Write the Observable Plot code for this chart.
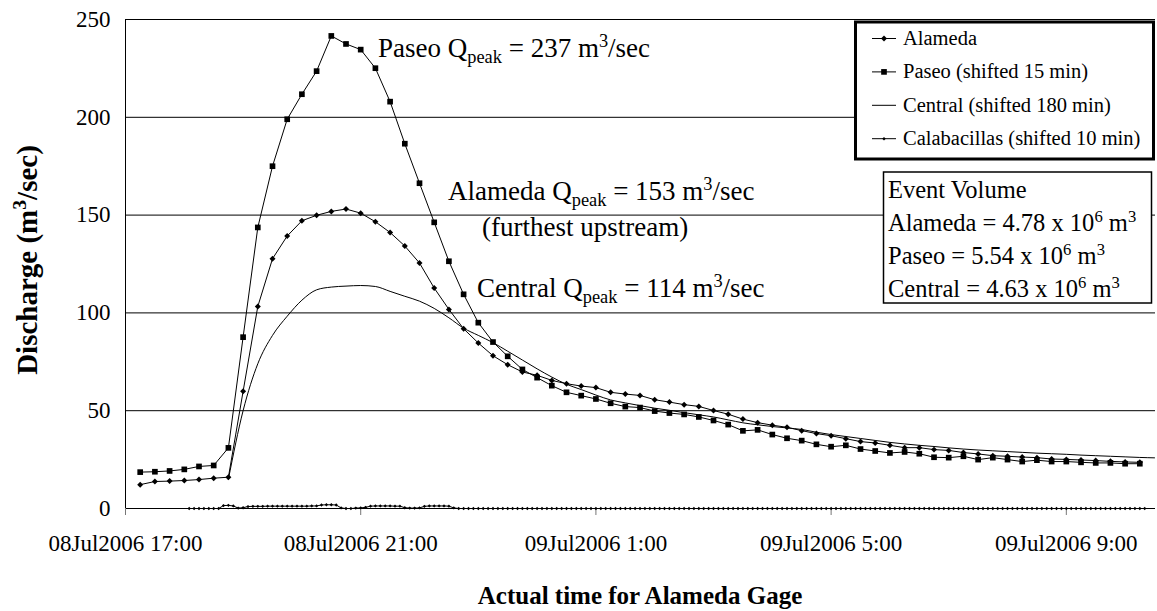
<!DOCTYPE html>
<html>
<head>
<meta charset="utf-8">
<script src="https://cdn.jsdelivr.net/npm/d3@7"></script>
<script src="https://cdn.jsdelivr.net/npm/@observablehq/plot@0.6"></script>
<style>
  html, body { margin: 0; padding: 0; background: #fff; }
  #chart { width: 1157px; height: 611px; }
</style>
</head>
<body>
<div id="chart"></div>
<script>
// ---------------- data (m3/sec) ----------------
// Alameda & Paseo: 15-min samples starting 08Jul2006 17:15
const alamedaQ = [12.2, 13.8, 14.0, 14.3, 14.8, 15.5, 16.0, 59.9, 103.3, 127.7, 139.3, 147.1, 149.9, 151.9, 153.1, 151.0,
  146.6, 141.1, 134.2, 125.5, 112.7, 101.8, 91.9, 84.6, 78.1, 73.5, 69.8, 68.1, 65.5, 63.8, 62.6, 61.8,
  59.4, 58.5, 57.8, 55.6, 54.4, 53.1, 52.2, 50.1, 48.2, 45.7, 43.9, 42.6, 41.5, 39.8, 38.3, 37.2,
  35.7, 34.2, 33.5, 32.3, 31.1, 31.1, 30.1, 29.7, 28.6, 27.9, 27.0, 26.7, 26.3, 26.0, 25.3, 25.1,
  24.8, 24.5, 24.1, 23.8, 23.6];
const paseoQ = [18.6, 18.8, 19.2, 20.0, 21.5, 22.0, 31.0, 87.6, 143.7, 175.0, 199.0, 211.8, 223.6, 241.6, 237.5, 234.6,
  225.1, 208.0, 186.5, 166.3, 146.3, 126.4, 109.5, 95.0, 85.1, 77.8, 71.1, 66.9, 62.8, 59.4, 57.7, 56.0,
  53.8, 52.1, 51.6, 49.8, 48.8, 48.1, 46.8, 45.0, 42.9, 39.7, 40.2, 37.8, 35.9, 34.7, 32.8, 31.6,
  32.3, 30.4, 29.4, 28.4, 28.9, 28.0, 26.2, 26.0, 26.7, 25.0, 26.0, 25.0, 24.0, 24.7, 24.0, 24.0,
  23.6, 23.3, 23.3, 22.9, 22.9];
// Central: 15-min samples starting 08Jul2006 18:45
const centralQ = [15, 50, 74, 88.5, 98.3, 106.5, 111.8, 113.2, 113.7, 114.0, 113.5, 111.0, 108.5, 106.0, 102.3, 97.5,
  92.2, 88.5, 84.8, 80.4, 75.9, 71.4, 67.2, 63.5, 60.8, 58.0, 55.5, 54.0, 52.6, 51.3, 50.2, 49.0,
  47.9, 46.8, 45.3, 43.8, 42.8, 41.9, 41.2, 40.4, 39.0, 37.8, 36.8, 35.8, 34.8, 33.8, 33.0, 32.3,
  31.7, 31.0, 30.4, 29.9, 29.5, 29.1, 28.7, 28.3, 28.0, 27.7, 27.3, 27.0, 26.7, 26.4, 26.1, 25.9];
// Calabacillas: 5-min samples starting 08Jul2006 18:05 (one row per hour)
const calabQ = [
  0, 0, 0, 0, 0, 0, 0, 1.5, 1.6, 1.3, 0.2, 0.4,
  1.0, 1.1, 1.1, 1.1, 1.2, 1.2, 1.2, 1.2, 1.2, 1.2, 1.2, 1.2,
  1.2, 1.3, 1.3, 1.8, 1.9, 1.9, 1.8, 0.3, 0, 0, 0.2, 0.3,
  0.6, 1.2, 1.3, 1.3, 1.3, 1.3, 1.2, 1.2, 0.4, 0.2, 0.2, 0.3,
  1.1, 1.3, 1.3, 1.3, 1.3, 1.2, 0.3, 0, 0, 0, 0, 0,
  0, 0, 0, 0, 0, 0, 0, 0, 0, 0, 0, 0,
  0, 0, 0, 0, 0, 0, 0, 0, 0, 0, 0, 0,
  0, 0, 0, 0, 0, 0, 0, 0, 0, 0, 0, 0,
  0, 0, 0, 0, 0, 0, 0, 0, 0, 0, 0, 0,
  0, 0, 0, 0, 0, 0, 0, 0, 0, 0, 0, 0,
  0, 0, 0, 0, 0, 0, 0, 0, 0, 0, 0, 0,
  0, 0, 0, 0, 0, 0, 0, 0, 0, 0, 0, 0,
  0, 0, 0, 0, 0, 0, 0, 0, 0, 0, 0, 0,
  0, 0, 0, 0, 0, 0, 0, 0, 0, 0, 0, 0,
  0, 0, 0, 0, 0, 0, 0, 0, 0, 0, 0, 0,
  0, 0, 0, 0, 0, 0, 0, 0, 0, 0, 0, 0,
  0, 0, 0, 0
];
const yTicks = [0, 50, 100, 150, 200, 250];
const xTickHours = [[8, 17], [8, 21], [9, 1], [9, 5], [9, 9]];
const legendLabels = ["Alameda", "Paseo (shifted 15 min)", "Central (shifted 180 min)", "Calabacillas (shifted 10 min)"];
const volumeLabels = [["Alameda", "4.78"], ["Paseo", "5.54"], ["Central", "4.63"]];

// ---------------- build tables ----------------
const T = (d, h, m) => new Date(Date.UTC(2006, 6, d, h, m));
const series = (vals, start, stepMin) => vals.map((v, i) => ({t: new Date(+start + i * stepMin * 60000), v}));
const alameda = series(alamedaQ, T(8, 17, 15), 15);
const paseo = series(paseoQ, T(8, 17, 15), 15);
const central = series(centralQ, T(8, 18, 45), 15);
const calab = series(calabQ, T(8, 18, 5), 5);
const xTicks = xTickHours.map(([d, h]) => T(d, h, 0));
const fmt = d => `${String(d.getUTCDate()).padStart(2, "0")}Jul2006 ${d.getUTCHours()}:00`;

const FONT = '"Liberation Serif", "Times New Roman", Times, serif';
const diamond = d3.symbolDiamond2;

const chart = Plot.plot({
  width: 1157,
  height: 611,
  marginLeft: 125,
  marginRight: 2,
  marginTop: 19,
  marginBottom: 103,
  style: {fontFamily: FONT, fontSize: "23px", color: "#000", background: "#fff", overflow: "visible"},
  x: {type: "utc", domain: [T(8, 17, 0), T(9, 10, 31)]},
  y: {domain: [0, 250]},
  marks: [
    Plot.gridY({ticks: yTicks, stroke: "#000", strokeOpacity: 1, strokeWidth: 1}),
    Plot.ruleY([0], {stroke: "#000", strokeWidth: 1}),
    Plot.ruleX([T(8, 17, 0)], {stroke: "#000", strokeWidth: 1}),
    Plot.axisY({ticks: yTicks, tickSize: 0, tickPadding: 15, label: null, fontSize: 23}),
    Plot.axisX({ticks: xTicks, tickFormat: fmt, tickSize: 7, tickPadding: 19, label: null, stroke: "#777", fontSize: 23}),
    // Calabacillas
    Plot.line(calab, {x: "t", y: "v", stroke: "#000", strokeWidth: 1}),
    Plot.dot(calab, {x: "t", y: "v", symbol: diamond, r: 1.5, fill: "#000", stroke: "none"}),
    // Central
    Plot.line(central, {x: "t", y: "v", stroke: "#000", strokeWidth: 1, curve: "monotone-x"}),
    // Alameda
    Plot.line(alameda, {x: "t", y: "v", stroke: "#000", strokeWidth: 1}),
    Plot.dot(alameda, {x: "t", y: "v", symbol: diamond, r: 2.7, fill: "#000", stroke: "none"}),
    // Paseo
    Plot.line(paseo, {x: "t", y: "v", stroke: "#000", strokeWidth: 1}),
    Plot.dot(paseo, {x: "t", y: "v", symbol: "square", r: 3.2, fill: "#000", stroke: "none"})
  ]
});
document.getElementById("chart").appendChild(chart);

// ---------------- text overlays ----------------
const svg = d3.select(chart);
const g = svg.append("g").attr("font-family", FONT).attr("fill", "#000");

function rich(x, y, parts, size, opts = {}) {
  const t = g.append("text").attr("x", x).attr("y", y).attr("font-size", size)
    .attr("text-anchor", opts.anchor || "start");
  if (opts.weight) t.attr("font-weight", opts.weight);
  if (opts.rotate) t.attr("transform", `rotate(${opts.rotate},${x},${y})`);
  let shift = 0;
  for (const [s, kind] of parts) {
    const sp = t.append("tspan").text(s);
    const target = kind === "sub" ? 0.24 * size : kind === "sup" ? -0.38 * size : 0;
    if (target !== shift) sp.attr("dy", target - shift);
    shift = target;
    if (kind) sp.attr("font-size", size * 0.68);
  }
  return t;
}

// axis titles
rich(37, 260, [["Discharge (m", ""], ["3", "sup"], ["/sec)", ""]], 29, {anchor: "middle", weight: "bold", rotate: -90});
rich(640, 604, [["Actual time for Alameda Gage", ""]], 25, {anchor: "middle", weight: "bold"});

// peak annotations
rich(378, 57, [["Paseo Q", ""], ["peak", "sub"], [" = 237 m", ""], ["3", "sup"], ["/sec", ""]], 27);
rich(448, 200, [["Alameda Q", ""], ["peak", "sub"], [" = 153 m", ""], ["3", "sup"], ["/sec", ""]], 27);
rich(482, 236, [["(furthest upstream)", ""]], 27);
rich(477, 297, [["Central Q", ""], ["peak", "sub"], [" = 114 m", ""], ["3", "sup"], ["/sec", ""]], 27);

// legend box
g.append("rect").attr("x", 855.5).attr("y", 22).attr("width", 298).attr("height", 137)
  .attr("fill", "#fff").attr("stroke", "#000").attr("stroke-width", 3);
const legendSym = [
  {sym: diamond, r: 2.7}, {sym: d3.symbolSquare, r: 3.2}, null, {sym: diamond, r: 1.6}
];
legendLabels.forEach((lab, i) => {
  const base = 45 + i * 33.4;
  const cy = base - 6.5;
  g.append("line").attr("x1", 872).attr("x2", 896).attr("y1", cy).attr("y2", cy)
    .attr("stroke", "#000").attr("stroke-width", 1);
  const s = legendSym[i];
  if (s) g.append("path").attr("transform", `translate(884,${cy})`)
    .attr("d", d3.symbol(s.sym, s.r * s.r * Math.PI)());
  rich(903, base, [[lab, ""]], 20.5);
});

// event volume box
g.append("rect").attr("x", 883.5).attr("y", 172).attr("width", 268).attr("height", 131)
  .attr("fill", "#fff").attr("stroke", "#000").attr("stroke-width", 1.5);
rich(888, 198, [["Event Volume", ""]], 24.5);
volumeLabels.forEach(([name, v], i) => {
  rich(888, 231 + i * 33, [[`${name} = ${v} x 10`, ""], ["6", "sup"], [" m", ""], ["3", "sup"]], 24.5);
});
</script>
</body>
</html>
